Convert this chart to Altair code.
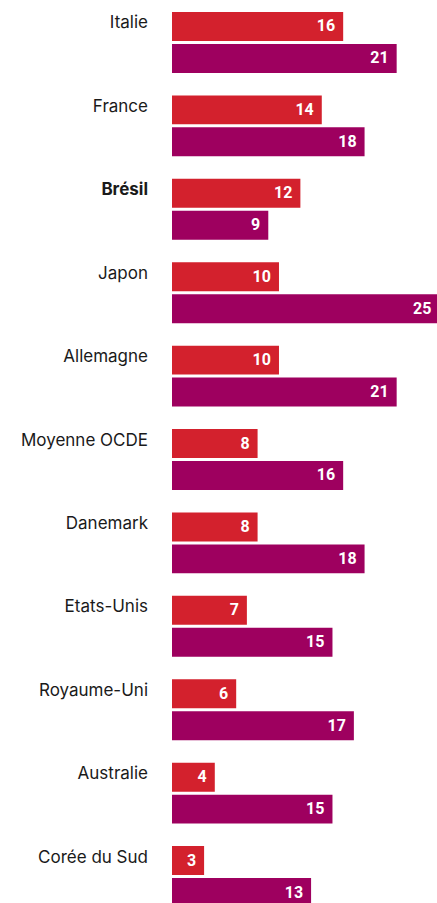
import altair as alt
import pandas as pd

countries = ["Italie", "France", "Brésil", "Japon", "Allemagne", "Moyenne OCDE",
             "Danemark", "Etats-Unis", "Royaume-Uni", "Australie", "Corée du Sud"]
series_names = ["Série 1", "Série 2"]
values_1 = [16, 14, 12, 10, 10, 8, 8, 7, 6, 4, 3]
values_2 = [21, 18, 9, 25, 21, 16, 18, 15, 17, 15, 13]
highlight = ["Brésil"]
colors = ["#D3212D", "#9E005F"]

rows = []
for c, v1, v2 in zip(countries, values_1, values_2):
    rows.append({"pays": c, "serie": series_names[0], "valeur": v1})
    rows.append({"pays": c, "serie": series_names[1], "valeur": v2})
df = pd.DataFrame(rows)

W, H = 265, 919

y_enc = alt.Y("pays:N", sort=countries, axis=None,
              scale=alt.Scale(paddingInner=0.27, paddingOuter=0.144))
yoff_enc = alt.YOffset("serie:N", sort=series_names,
                       scale=alt.Scale(paddingInner=0.094, paddingOuter=0))
x_enc = alt.X("valeur:Q", axis=None,
              scale=alt.Scale(domain=[0, 24.77], nice=False, zero=True))

base = alt.Chart(df)

bars = base.mark_bar().encode(
    x=x_enc, y=y_enc, yOffset=yoff_enc,
    color=alt.Color("serie:N", sort=series_names,
                    scale=alt.Scale(domain=series_names, range=colors), legend=None),
)

vals = base.mark_text(align="right", baseline="middle", dx=-8, dy=0,
                      color="white", font="Roboto", fontWeight="bold",
                      fontSize=16).encode(
    x=x_enc, y=y_enc, yOffset=yoff_enc, text="valeur:Q")

label_data = base.transform_filter(alt.datum.serie == series_names[0])

labels = label_data.transform_filter(
    ~alt.FieldOneOfPredicate(field="pays", oneOf=highlight)
).mark_text(align="right", baseline="middle", dy=-3, font="Inter",
            fontSize=17, color="#1a1a1a").encode(
    x=alt.value(-24), y=y_enc, yOffset=yoff_enc, text="pays:N")

labels_b = label_data.transform_filter(
    alt.FieldOneOfPredicate(field="pays", oneOf=highlight)
).mark_text(align="right", baseline="middle", dy=-3, font="Inter",
            fontSize=17, fontWeight="bold", color="#1a1a1a").encode(
    x=alt.value(-24), y=y_enc, yOffset=yoff_enc, text="pays:N")

chart = alt.layer(bars, vals, labels, labels_b).properties(
    width=W, height=H,
    background="white",
    autosize=alt.AutoSizeParams(type="none"),
    padding={"left": 172, "top": 0, "right": 0, "bottom": 0},
).configure_view(stroke=None, strokeWidth=0)

chart.save("out.html", embed_options={"renderer": "svg", "actions": False})
